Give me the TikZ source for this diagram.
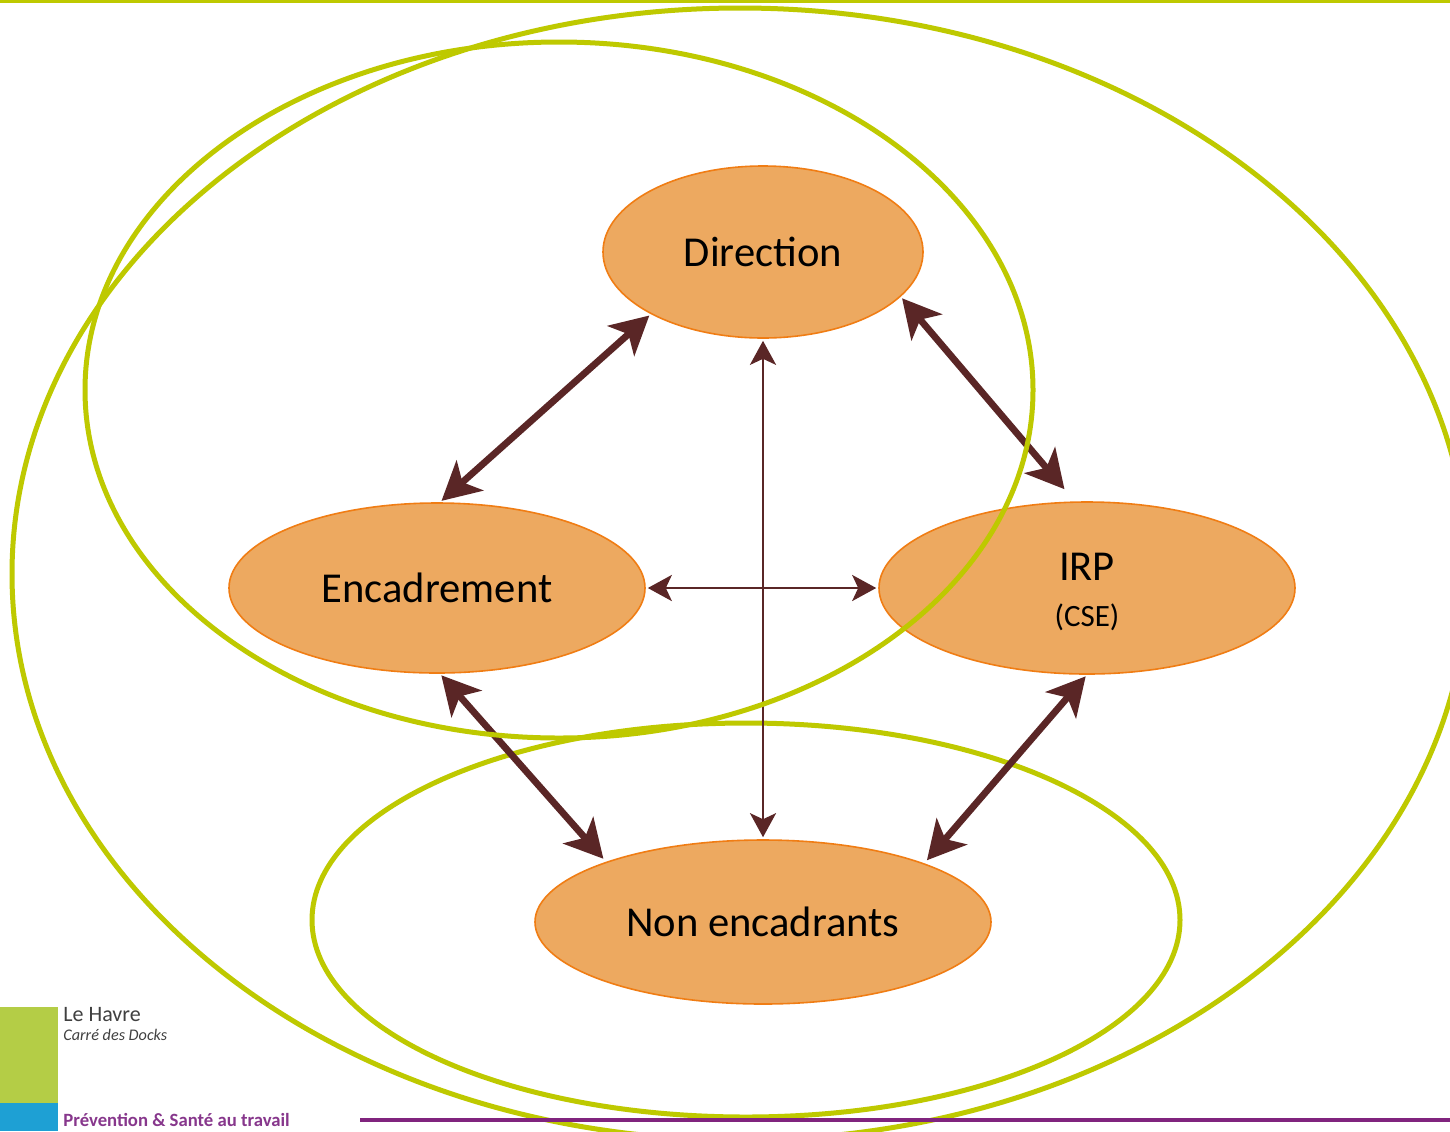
\documentclass[tikz,border=0pt]{standalone}
\usepackage{fontspec}
\setmainfont{Carlito}
\usetikzlibrary{shapes.geometric,arrows.meta}
\definecolor{ringgreen}{RGB}{190,201,0}
\definecolor{bubblefill}{RGB}{237,169,96}
\definecolor{bubbleline}{RGB}{240,125,20}
\definecolor{arrowbrown}{RGB}{90,38,38}
\definecolor{purpleline}{RGB}{128,36,126}
\definecolor{purpletext}{RGB}{135,55,140}
\definecolor{logogreen}{RGB}{180,205,70}
\definecolor{logoblue}{RGB}{30,160,212}
\tikzset{
  ring/.style={draw=ringgreen,line width=2.5pt},
  bubble/.style={ellipse,draw=bubbleline,line width=0.8pt,fill=bubblefill,inner sep=0pt,font=\fontsize{21.3}{24}\selectfont,align=center},
  thicklink/.style={draw=arrowbrown,line width=3.4pt,{Stealth[length=19pt,width=20pt,inset=5pt]}-{Stealth[length=19pt,width=20pt,inset=5pt]}},
  thinlink/.style={draw=arrowbrown,line width=1.4pt,{Stealth[length=12pt,width=13pt,inset=3pt]}-{Stealth[length=12pt,width=13pt,inset=3pt]}}
}
\begin{document}
\begin{tikzpicture}[x=0.5pt,y=-0.5pt]
\useasboundingbox (0,0) rectangle (1450,1131);
\fill[white] (0,0) rectangle (1450,1131);
\begin{scope}
\clip (0,0) rectangle (1450,1131);
% top line
\draw[draw=ringgreen,line width=1.6pt] (0,1.5) -- (1450,1.5);
% rings
\draw[ring] (740,574) ellipse [x radius=728,y radius=566];
\draw[ring] (746,920) ellipse [x radius=434,y radius=197];
% purple line
\draw[draw=purpleline,line width=2pt] (360,1120) -- (1450,1120);
% logo
\fill[logogreen] (0,1007) rectangle (58,1103);
\fill[logoblue] (0,1103) rectangle (58,1131);
\node[anchor=west,inner sep=0pt,text=black!75,font=\fontsize{11}{12}\selectfont] (lh) at (63,1015) {Le Havre};
\node[anchor=west,inner sep=0pt,text=black!75,font=\fontsize{8.1}{9}\selectfont\itshape] (cd) at (63,1035) {Carré des Docks};
\node[anchor=west,inner sep=0pt,text=purpletext,font=\fontsize{9.35}{10}\selectfont\bfseries] (ps) at (63,1120) {Prévention \& Santé au travail};
\end{scope}
% bubbles
\node[bubble,minimum width=160pt,minimum height=86pt] (dir) at (763,252) {Direction};
\node[bubble,minimum width=208pt,minimum height=85pt] (enc) at (437,588) {Encadrement};
\node[bubble,minimum width=208pt,minimum height=86pt] (irp) at (1087,588) {\raisebox{0pt}[\dimexpr\height+6pt\relax][\depth]{\begin{tabular}{@{}c@{}}IRP\\[-1pt]{\fontsize{15.5}{17}\selectfont (CSE)}\end{tabular}}};
\node[bubble,minimum width=228pt,minimum height=82pt] (non) at (763,922) {Non encadrants};
% connectors
\draw[thicklink,shorten <=1pt,shorten >=1pt] (dir.209) -- (enc.88);
\draw[thicklink,shorten <=1pt,shorten >=8pt] (dir.-18) -- (irp.98);
\draw[thicklink,shorten <=1pt,shorten >=2pt] (enc.-88) -- (non.159);
\draw[thicklink,shorten <=1pt,shorten >=2pt] (irp.-90) -- (non.20);
\draw[thinlink,shorten <=1pt,shorten >=1pt] (dir.south) -- (non.north);
\draw[thinlink,shorten <=1pt,shorten >=1pt] (enc.east) -- (irp.west);
% upper ring on top
\draw[ring] (559,390) ellipse [x radius=474,y radius=348];
\end{tikzpicture}
\end{document}
